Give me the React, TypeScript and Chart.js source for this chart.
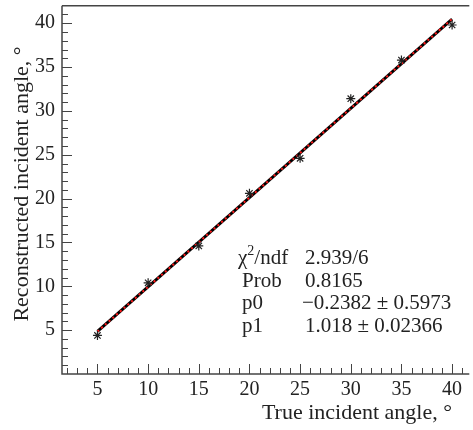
import React, { useEffect, useRef } from "react";
import { Chart, registerables } from "chart.js";

Chart.register(...registerables);

const trueAngles = [5, 10, 15, 20, 25, 30, 35, 40];
const recoAngles = [4.4, 10.4, 14.6, 20.6, 24.6, 31.4, 35.8, 39.8];
const fitX = [5, 40];
const fitY = [4.85, 40.48];
const xTickLabels = [5, 10, 15, 20, 25, 30, 35, 40];
const yTickLabels = [5, 10, 15, 20, 25, 30, 35, 40];
const statLabels = ["χ²/ndf", "Prob", "p0", "p1"];
const statValues = ["2.939/6", "0.8165", "−0.2382 ± 0.5973", "1.018 ± 0.02366"];

const FONT = "'Liberation Serif', 'DejaVu Serif', serif";
const AXIS = "#444";

const framePlugin = {
  id: "rootFrame",
  afterDraw(chart: any) {
    const { ctx, chartArea } = chart;
    const xs = chart.scales.x;
    const ys = chart.scales.y;
    ctx.save();
    ctx.strokeStyle = AXIS;
    ctx.lineWidth = 1.5;
    ctx.beginPath();
    ctx.moveTo(chartArea.left, chartArea.top);
    ctx.lineTo(chartArea.right + 2, chartArea.top);
    ctx.moveTo(chartArea.left, chartArea.top);
    ctx.lineTo(chartArea.left, chartArea.bottom);
    ctx.lineTo(chartArea.right + 2, chartArea.bottom);
    ctx.stroke();
    ctx.lineWidth = 1;
    ctx.beginPath();
    for (let v = 2; v <= 41; v++) {
      const px = Math.round(xs.getPixelForValue(v)) + 0.5;
      const len = v % 5 === 0 ? 10 : 6;
      ctx.moveTo(px, chartArea.bottom);
      ctx.lineTo(px, chartArea.bottom - len);
    }
    for (let v = 1; v <= 41; v++) {
      const py = Math.round(ys.getPixelForValue(v)) + 0.5;
      const len = v % 5 === 0 ? 10 : 6;
      ctx.moveTo(chartArea.left, py);
      ctx.lineTo(chartArea.left + len, py);
    }
    ctx.stroke();

    ctx.fillStyle = "#222";
    ctx.font = `22px ${FONT}`;
    ctx.textBaseline = "middle";
    ctx.textAlign = "right";
    ctx.fillText("True incident angle, °", 452, 413);
    ctx.save();
    ctx.translate(22, 184);
    ctx.rotate(-Math.PI / 2);
    ctx.textAlign = "center";
    ctx.fillText("Reconstructed incident angle, °", 0, 0);
    ctx.restore();

    ctx.font = `21px ${FONT}`;
    ctx.textAlign = "left";
    const rows = [258, 281, 303, 326];
    statLabels.forEach((l, i) => {
      if (i === 0) {
        ctx.fillText("χ", 238, rows[i]);
        const w = ctx.measureText("χ").width;
        ctx.font = `14px ${FONT}`;
        ctx.fillText("2", 238 + w, rows[i] - 7);
        const w2 = ctx.measureText("2").width;
        ctx.font = `21px ${FONT}`;
        ctx.fillText("/ndf", 238 + w + w2, rows[i]);
      } else {
        ctx.fillText(l, 242, rows[i]);
      }
      ctx.fillText(statValues[i], i === 2 ? 302 : 305, rows[i]);
    });
    ctx.restore();
  },
};

export default function App() {
  const ref = useRef<HTMLCanvasElement>(null);
  useEffect(() => {
    document.body.style.margin = "0";
    const chart = new Chart(ref.current as HTMLCanvasElement, {
      type: "scatter",
      data: {
        datasets: [
          {
            label: "data",
            data: trueAngles.map((x, i) => ({ x, y: recoAngles[i] })),
            pointStyle: "star",
            radius: 4.5,
            borderColor: "#222",
            backgroundColor: "#222",
            borderWidth: 1.2,
            showLine: false,
          },
          {
            label: "fit red",
            data: fitX.map((x, i) => ({ x, y: fitY[i] })),
            showLine: true,
            borderColor: "#ff1a1a",
            borderWidth: 2,
            borderDash: [2, 3],
            pointRadius: 0,
          },
          {
            label: "fit black",
            data: fitX.map((x, i) => ({ x, y: fitY[i] })),
            showLine: true,
            borderColor: "#000",
            borderWidth: 3,
            pointRadius: 0,
          },
        ],
      },
      options: {
        animation: false,
        responsive: false,
        layout: { padding: { top: 4, right: 1, left: 0, bottom: 0 } },
        plugins: { legend: { display: false }, tooltip: { enabled: false } },
        scales: {
          x: {
            type: "linear",
            min: 1.5,
            max: 41.5,
            grid: { display: false, drawTicks: false },
            border: { display: false },
            afterBuildTicks: (s: any) => {
              s.ticks = xTickLabels.map((v) => ({ value: v }));
            },
            afterFit: (s: any) => {
              s.height = 56;
              s.paddingLeft = 0;
              s.paddingRight = 0;
            },
            ticks: {
              padding: 4,
              color: "#222",
              font: { family: FONT, size: 20 },
              maxRotation: 0,
              autoSkip: false,
            },
          },
          y: {
            type: "linear",
            min: 0,
            max: 42,
            grid: { display: false, drawTicks: false },
            border: { display: false },
            afterBuildTicks: (s: any) => {
              s.ticks = yTickLabels.map((v) => ({ value: v }));
            },
            afterFit: (s: any) => {
              s.width = 62;
              s.paddingTop = 0;
              s.paddingBottom = 0;
            },
            ticks: {
              padding: 7,
              color: "#222",
              font: { family: FONT, size: 20 },
              autoSkip: false,
            },
          },
        },
      },
      plugins: [framePlugin],
    });
    return () => chart.destroy();
  }, []);
  return <canvas ref={ref} width={473} height={430} style={{ display: "block" }} />;
}
